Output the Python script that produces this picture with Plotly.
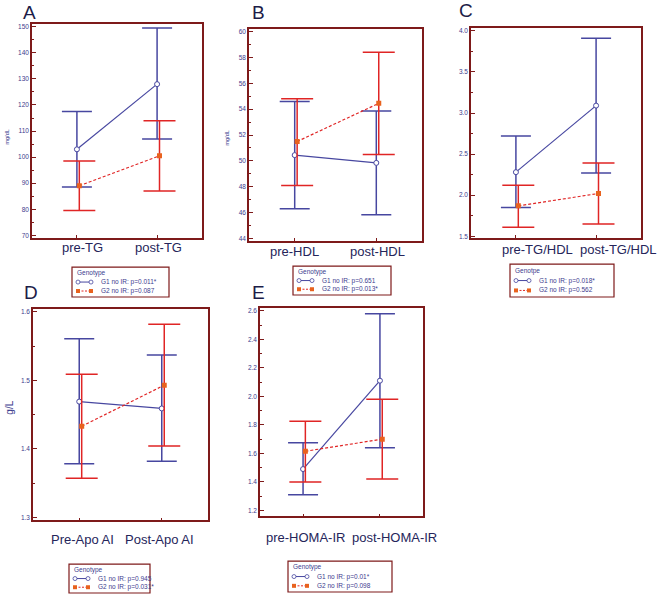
import plotly.graph_objects as go

W, H = 659, 596

# ---------------- data ----------------
cats_A = ["pre-TG", "post-TG"]
g1_A = [103.0, 128.0]
g1_A_lo = [88.5, 107.0]
g1_A_hi = [117.5, 149.5]
g2_A = [89.0, 100.5]
g2_A_lo = [79.5, 87.0]
g2_A_hi = [98.5, 114.0]

cats_B = ["pre-HDL", "post-HDL"]
g1_B = [50.45, 49.85]
g1_B_lo = [46.3, 45.85]
g1_B_hi = [54.6, 53.85]
g2_B = [51.5, 54.45]
g2_B_lo = [48.1, 50.5]
g2_B_hi = [54.8, 58.4]

cats_C = ["pre-TG/HDL", "post-TG/HDL"]
g1_C = [2.28, 3.09]
g1_C_lo = [1.85, 2.27]
g1_C_hi = [2.72, 3.91]
g2_C = [1.87, 2.02]
g2_C_lo = [1.61, 1.65]
g2_C_hi = [2.12, 2.39]

cats_D = ["Pre-Apo AI", "Post-Apo AI"]
g1_D = [1.469, 1.459]
g1_D_lo = [1.378, 1.382]
g1_D_hi = [1.561, 1.537]
g2_D = [1.433, 1.493]
g2_D_lo = [1.357, 1.404]
g2_D_hi = [1.509, 1.582]

cats_E = ["pre-HOMA-IR", "post-HOMA-IR"]
g1_E = [1.49, 2.11]
g1_E_lo = [1.31, 1.64]
g1_E_hi = [1.675, 2.58]
g2_E = [1.615, 1.70]
g2_E_lo = [1.40, 1.42]
g2_E_hi = [1.825, 1.98]

legend_A = ["G1 no IR: p=0.011*", "G2 no IR: p=0.087"]
legend_B = ["G1 no IR: p=0.651", "G2 no IR: p=0.013*"]
legend_C = ["G1 no IR: p=0.018*", "G2 no IR: p=0.562"]
legend_D = ["G1 no IR: p=0.945", "G2 no IR: p=0.031*"]
legend_E = ["G1 no IR: p=0.01*", "G2 no IR: p=0.098"]

# ---------------- style ----------------
BLUE = "#4747a0"
RED = "#e02525"
ORANGE = "#e8621e"
FRAME = "#7e1a1a"
TXT = "#3c3c8e"
LETTER = "#1c1c48"


def px(x):
    return x / W


def py(y):
    return 1 - y / H


fig = go.Figure()

panels = [
    ("A", cats_A, g1_A, g1_A_lo, g1_A_hi, g2_A, g2_A_lo, g2_A_hi, (32, 202), (23, 238), (68.9, 151.1), 10, 5, "", 247, (6, 1)),
    ("B", cats_B, g1_B, g1_B_lo, g1_B_hi, g2_B, g2_B_lo, g2_B_hi, (249, 422), (28, 241), (43.8, 60.2), 2, 1, "", 251, (0, 1)),
    ("C", cats_C, g1_C, g1_C_lo, g1_C_hi, g2_C, g2_C_lo, g2_C_hi, (471, 641), (27, 238), (1.476, 4.036), 0.5, 0.25, ".1f", 249, (22, 22)),
    ("D", cats_D, g1_D, g1_D_lo, g1_D_hi, g2_D, g2_D_lo, g2_D_hi, (33, 208), (309, 521), (1.2956, 1.6044), 0.1, 0.05, ".1f", 540, (3, -2)),
    ("E", cats_E, g1_E, g1_E_lo, g1_E_hi, g2_E, g2_E_lo, g2_E_hi, (260, 423), (308, 517), (1.159, 2.62), 0.2, 0.1, ".1f", 538, (2, 15)),
]

layout_updates = {}
annotations = []
shapes = []
OFF = 0.03

for i, (name, cats, g1, g1lo, g1hi, g2, g2lo, g2hi, xd, yd, yr, dt, mn, fmt, laby, shifts) in enumerate(panels):
    k = "" if i == 0 else str(i + 1)
    xa, ya = "x" + k, "y" + k
    xs = [0, 1]
    xs2 = [v + OFF for v in xs]
    fig.add_trace(go.Scatter(
        x=xs, y=g1, xaxis=xa, yaxis=ya, mode="lines+markers", showlegend=False,
        line=dict(color=BLUE, width=1.2),
        marker=dict(symbol="circle", size=5, color="white", line=dict(color=BLUE, width=1)),
        error_y=dict(type="data", symmetric=False,
                     array=[h - m for h, m in zip(g1hi, g1)],
                     arrayminus=[m - l for m, l in zip(g1, g1lo)],
                     color=BLUE, thickness=1.5, width=15),
    ))
    fig.add_trace(go.Scatter(
        x=xs2, y=g2, xaxis=xa, yaxis=ya, mode="lines+markers", showlegend=False,
        line=dict(color=RED, width=1.2, dash="3px,2px"),
        marker=dict(symbol="square", size=5, color=ORANGE, line=dict(color=ORANGE, width=0)),
        error_y=dict(type="data", symmetric=False,
                     array=[h - m for h, m in zip(g2hi, g2)],
                     arrayminus=[m - l for m, l in zip(g2, g2lo)],
                     color=RED, thickness=1.5, width=16),
    ))
    layout_updates["xaxis" + k] = dict(
        domain=[px(xd[0]), px(xd[1])], range=[-0.56, 1.56], anchor=ya,
        tickvals=[0, 1], ticktext=["", ""], ticks="inside", ticklen=3, tickcolor=FRAME,
        showgrid=False, zeroline=False, showline=True, mirror=True,
        linecolor=FRAME, linewidth=1.5, fixedrange=True,
    )
    layout_updates["yaxis" + k] = dict(
        domain=[py(yd[1]), py(yd[0])], range=list(yr), anchor=xa,
        dtick=dt, tick0=0, tickformat=fmt, ticks="inside", ticklen=4, tickcolor=FRAME,
        tickfont=dict(size=6.5, color=TXT, family="Liberation Sans, Arial"),
        minor=dict(dtick=mn, ticks="inside", ticklen=2, tickcolor=FRAME, showgrid=False),
        showgrid=False, zeroline=False, showline=True, mirror=True,
        linecolor=FRAME, linewidth=1.5, fixedrange=True,
    )
    for j, c in enumerate(cats):
        annotations.append(dict(
            x=j, xref=xa, y=py(laby), yref="paper", text=c, showarrow=False,
            xanchor="center", yanchor="middle", xshift=shifts[j],
            font=dict(size=13, color="#25255a", family="Liberation Sans, Arial"),
        ))

# panel letters
for letter, (lx, ly) in zip("ABCDE", [(29, 12), (258, 12), (466, 10), (31, 292), (258, 292)]):
    annotations.append(dict(x=px(lx), y=py(ly), xref="paper", yref="paper", text=letter,
                            showarrow=False, xanchor="center", yanchor="middle",
                            font=dict(size=19, color=LETTER, family="Liberation Sans, Arial")))

# y axis titles
for t, (tx, ty), fs in [("mg/dL", (7, 137), 5.5), ("mg/dL", (227, 138), 5.5), ("g/L", (10, 408), 10)]:
    annotations.append(dict(x=px(tx), y=py(ty), xref="paper", yref="paper", text=t, textangle=-90,
                            showarrow=False, xanchor="center", yanchor="middle",
                            font=dict(size=fs, color=TXT, family="Liberation Sans, Arial")))

# legends (drawn as boxes with text)
legends = [
    ("Genotype", legend_A, (72, 267, 169, 297)),
    ("Genotype", legend_B, (293, 266, 391, 295)),
    ("Genotpe", legend_C, (510, 264, 614, 297)),
    ("Genotype", legend_D, (69, 565, 150, 594)),
    ("Genotype", legend_E, (288, 562, 392, 593)),
]
for title, labels, (x0, y0, x1, y1) in legends:
    hgt = y1 - y0
    shapes.append(dict(type="rect", xref="paper", yref="paper", x0=px(x0), x1=px(x1),
                       y0=py(y1), y1=py(y0), line=dict(color=FRAME, width=1.2), fillcolor="white", layer="above"))
    r0 = y0 + hgt * 0.2
    r1 = y0 + hgt * 0.5
    r2 = y0 + hgt * 0.8
    annotations.append(dict(x=px(x0 + 3), y=py(r0), xref="paper", yref="paper", text=title,
                            showarrow=False, xanchor="left", yanchor="middle",
                            font=dict(size=6.5, color=TXT, family="Liberation Sans, Arial")))
    shapes.append(dict(type="line", xref="paper", yref="paper", x0=px(x0 + 6), x1=px(x0 + 19),
                       y0=py(r1), y1=py(r1), line=dict(color=BLUE, width=1), layer="above"))
    for cx in (x0 + 6, x0 + 19):
        shapes.append(dict(type="circle", xref="paper", yref="paper", x0=px(cx - 2), x1=px(cx + 2),
                           y0=py(r1 + 2), y1=py(r1 - 2), line=dict(color=BLUE, width=0.8),
                           fillcolor="white", layer="above"))
    shapes.append(dict(type="line", xref="paper", yref="paper", x0=px(x0 + 6), x1=px(x0 + 19),
                       y0=py(r2), y1=py(r2), line=dict(color=RED, width=1, dash="2px,1.5px"), layer="above"))
    for cx in (x0 + 6, x0 + 19):
        shapes.append(dict(type="rect", xref="paper", yref="paper", x0=px(cx - 2), x1=px(cx + 2),
                           y0=py(r2 + 2), y1=py(r2 - 2), line=dict(color=ORANGE, width=0),
                           fillcolor=ORANGE, layer="above"))
    for lab, ry in zip(labels, (r1, r2)):
        annotations.append(dict(x=px(x0 + 27), y=py(ry), xref="paper", yref="paper", text=lab,
                                showarrow=False, xanchor="left", yanchor="middle",
                                font=dict(size=6.5, color=TXT, family="Liberation Sans, Arial")))

fig.update_layout(
    width=W, height=H, autosize=False,
    margin=dict(l=0, r=0, t=0, b=0),
    paper_bgcolor="white", plot_bgcolor="white",
    showlegend=False,
    annotations=annotations, shapes=shapes,
    **layout_updates,
)

fig.write_html(
    "out.html",
    config={"displayModeBar": False},
    post_script="document.body.style.margin='0';document.body.style.padding='0';document.body.style.overflow='hidden';",
)
